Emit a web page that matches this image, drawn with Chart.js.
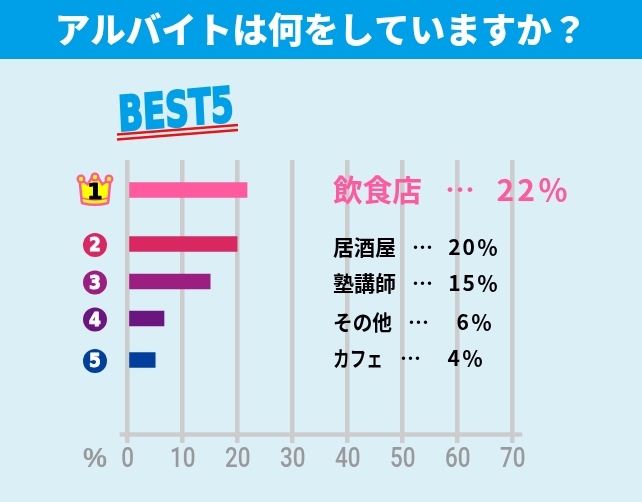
<!DOCTYPE html>
<html lang="ja"><head><meta charset="utf-8">
<style>html,body{margin:0;padding:0;background:#dbeff7}#w{width:642px;height:502px;position:relative}</style>
<script src="https://cdn.jsdelivr.net/npm/chart.js@4"></script>
</head><body><div id="w"><canvas id="c" width="642" height="502"></canvas></div>
<script>
const titleText = 'アルバイトは何をしていますか？';
const heading = 'BEST5';
const categories = ['飲食店','居酒屋','塾講師','その他','カフェ'];
const barValues = [21.7,19.9,15,6.6,5];
const statedPercents = [22,20,15,6,4];
const rowPositions = [30,84,121.5,158.5,200];
const barColors = ['#ff5a9e','#d92762','#9c1e80','#6b1680','#00409c'];
const xTicks = [0,10,20,30,40,50,60,70];
const unitLabel = '%';

const JP = '"Noto Sans CJK JP"';
const BLUE = '#00a0e9', PINK = '#ff5a9e', GREY = '#999999', RULE = '#cccccc';

function crown(ctx, cx, cy){
  const path = () => {
    ctx.beginPath();
    ctx.moveTo(cx-12, cy+12);
    ctx.lineTo(cx-14, cy-9);
    ctx.lineTo(cx-7, cy-4);
    ctx.lineTo(cx-2, cy-12);
    ctx.lineTo(cx+2, cy-12);
    ctx.lineTo(cx+7, cy-4);
    ctx.lineTo(cx+14, cy-9);
    ctx.lineTo(cx+12, cy+12);
    ctx.quadraticCurveTo(cx, cy+15, cx-12, cy+12);
    ctx.closePath();
  };
  ctx.lineJoin = 'round';
  ctx.strokeStyle = PINK; ctx.lineWidth = 5; path(); ctx.stroke();
  ctx.fillStyle = '#ffff00'; path(); ctx.fill();
  ctx.strokeStyle = PINK; ctx.lineWidth = 1.5;
  ctx.beginPath(); ctx.moveTo(cx-13,cy+8); ctx.quadraticCurveTo(cx,cy+12,cx+13,cy+8); ctx.stroke();
  for (const [dx,dy] of [[-14,-11],[0,-13],[14,-11]]) {
    ctx.fillStyle = PINK; ctx.beginPath(); ctx.arc(cx+dx,cy+dy,4.5,0,Math.PI*2); ctx.fill();
    ctx.fillStyle = '#ffff00'; ctx.beginPath(); ctx.arc(cx+dx,cy+dy,2.2,0,Math.PI*2); ctx.fill();
  }
}

const decor = {
  id:'decor',
  beforeDraw(chart){
    const ctx = chart.ctx;
    ctx.save();
    ctx.fillStyle = '#dbeff7'; ctx.fillRect(0,0,chart.width,chart.height);
    ctx.fillStyle = BLUE; ctx.fillRect(0,0,chart.width,59);
    ctx.restore();
  },
  beforeDatasetsDraw(chart){
    const ctx = chart.ctx, x = chart.scales.x;
    ctx.save();
    ctx.fillStyle = RULE;
    ctx.fillRect(x.left-8, chart.chartArea.bottom-2.2, x.width+17.5, 4.4);
    ctx.restore();
  },
  afterDraw(chart){
    const ctx = chart.ctx, y = chart.scales.y, x = chart.scales.x;
    ctx.save();
    // x tick labels, narrowed to match the reference's condensed digits
    ctx.font = '500 28px Roboto';
    ctx.fillStyle = GREY; ctx.textAlign='center'; ctx.textBaseline='middle';
    x.ticks.forEach((t,i)=>{
      ctx.save();
      ctx.translate(x.getPixelForTick(i),459.5);
      ctx.scale(0.8,1);
      ctx.fillText(String(t.value),0,0);
      ctx.restore();
    });
    // heading
    ctx.save();
    ctx.translate(119,131);
    ctx.rotate(-5*Math.PI/180);
    ctx.transform(0.68,0,-0.04,1,0,0);
    ctx.font = 'bold 48px "DejaVu Sans"';
    ctx.fillStyle = BLUE; ctx.strokeStyle = BLUE; ctx.lineWidth = 2.5;
    ctx.textAlign='left'; ctx.textBaseline='alphabetic';
    ctx.fillText(heading,0,0); ctx.strokeText(heading,0,0);
    ctx.restore();
    ctx.strokeStyle = '#ee1111'; ctx.lineWidth = 2.4;
    for (const d of [0,5]) {
      ctx.beginPath(); ctx.moveTo(117,134.5+d); ctx.lineTo(238,125+d); ctx.stroke();
    }
    // unit
    ctx.font = 'bold 27px "Liberation Sans"';
    ctx.fillStyle = GREY; ctx.textAlign='center'; ctx.textBaseline='middle';
    ctx.fillText(unitLabel,95,459.5);
    // rows
    const textY = [0,3,1.5,3.5,-2];
    const dotsX = [445,412,412,408,400];
    const pctRight = [568,498,498,492,483];
    const nameWidths = [89,63,63,59,50];
    categories.forEach((name,i)=>{
      const cy = y.getPixelForValue(rowPositions[i]);
      const big = i===0, size = big?30:21;
      const color = big?PINK:'#000000';
      const ty = cy+textY[i];
      if (big) {
        crown(ctx,95,cy);
        ctx.fillStyle='#000'; ctx.strokeStyle='#000'; ctx.lineWidth=1;
        ctx.font='bold 22px "DejaVu Sans"'; ctx.textAlign='center'; ctx.textBaseline='middle';
        ctx.fillText('1',95,cy+3.5); ctx.strokeText('1',95,cy+3.5);
      } else {
        ctx.fillStyle=barColors[i]; ctx.beginPath(); ctx.arc(95,cy+1,12,0,Math.PI*2); ctx.fill();
        ctx.fillStyle='#fff'; ctx.strokeStyle='#fff'; ctx.lineWidth=1;
        ctx.font='bold 20px "DejaVu Sans"'; ctx.textAlign='center'; ctx.textBaseline='middle';
        ctx.save(); ctx.translate(95,cy+2); ctx.scale(0.85,1);
        ctx.fillText(String(i+1),0,0); ctx.strokeText(String(i+1),0,0);
        ctx.restore();
      }
      ctx.fillStyle=color; ctx.textBaseline='middle';
      ctx.font=`bold ${size}px ${JP}`; ctx.textAlign='left';
      ctx.fillText(name,333,ty,nameWidths[i]);
      ctx.fillText('…',dotsX[i],ty);
      ctx.textAlign='right';
      ctx.letterSpacing = big?'3px':'2px';
      ctx.fillText(statedPercents[i]+'％',pctRight[i]+(big?3:2),ty);
      ctx.letterSpacing='0px';
    });
    ctx.restore();
  }
};

new Chart(document.getElementById('c'),{
  type:'bar',
  data:{datasets:[{
    label:'アルバイト',
    data:barValues.map((v,i)=>({x:v,y:rowPositions[i]})),
    backgroundColor:barColors,
    barThickness:15,
    base:0.33,
    borderSkipped:false
  }]},
  options:{
    indexAxis:'y',
    responsive:false,
    animation:false,
    layout:{padding:0},
    plugins:{
      legend:{display:false},
      tooltip:{enabled:false},
      title:{display:true,text:titleText,color:'#ffffff',
        font:{family:JP,size:35.5,weight:'900',lineHeight:1.2},
        padding:{top:8,bottom:109.4}}
    },
    scales:{
      x:{type:'linear',min:0,max:70,offset:false,
        afterFit(s){s.height=67.5;},
        afterBuildTicks(s){s.ticks=xTicks.map(v=>({value:v}));},
        border:{display:false},
        grid:{color:RULE,lineWidth:4.5,tickLength:8.5,drawTicks:true,offset:false},
        ticks:{display:false}
      },
      y:{type:'linear',position:'left',reverse:true,min:0,max:274.5,offset:false,
        afterFit(s){s.width=127.7;},
        border:{display:false},grid:{display:false},ticks:{display:false}},
      yRight:{type:'linear',position:'right',min:0,max:1,
        afterFit(s){s.width=129.3;},
        border:{display:false},grid:{display:false},ticks:{display:false}}
    }
  },
  plugins:[decor]
});
</script></body></html>
